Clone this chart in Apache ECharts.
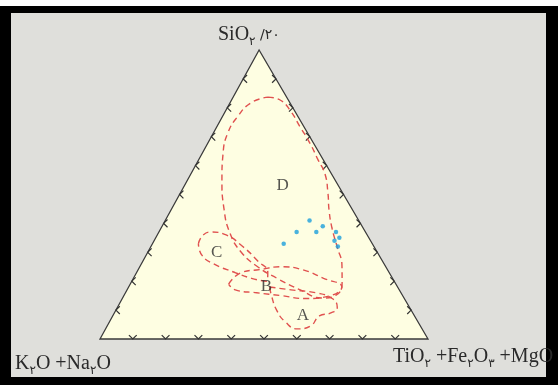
<!DOCTYPE html>
<html>
<head>
<meta charset="utf-8">
<script src="https://cdn.jsdelivr.net/npm/echarts@6/dist/echarts.min.js"></script>
<style>
  html, body { margin: 0; padding: 0; background: #fff; }
  #chart { width: 558px; height: 385px; }
</style>
</head>
<body>
<div id="chart"></div>
<script>
// Compositions are [SiO2/20, K2O+Na2O, TiO2+Fe2O3+MgO] in percent.

// Sandstone samples
const samples = [
  [41, 15, 44], [37, 21, 42], [39, 12, 49], [37, 15, 48], [33, 27, 40],
  [37, 9, 54], [35, 9, 56], [34, 11, 55], [32, 11, 57]
];

// Tectonic-setting field outlines
const fieldA = [
  [18, 39, 43], [17, 33, 50], [16, 26, 58], [14, 22, 64], [11, 22, 67], [9, 25, 66],
  [8, 29, 63], [4.5, 33.5, 62], [3.5, 38, 58.5], [6, 40.5, 53.5], [10, 41, 49], [15, 40, 45]
];
const fieldB = [
  [19, 51, 30], [23, 45, 32], [24, 39, 37], [25, 32, 43], [24, 26, 50], [21, 21, 58],
  [18, 17, 65], [15, 22, 63], [14, 30, 56], [15, 37, 48], [16, 44, 40], [17, 50, 33]
];
const fieldC = [
  [33, 53, 14], [36, 50, 14], [37, 47, 16], [36, 43, 21], [32, 40, 28], [27, 38, 35],
  [23, 37, 40], [20, 39, 41], [21, 43, 36], [23, 47, 30], [26, 52, 22], [29, 54, 17]
];
const fieldD = [
  [83.7, 5.7, 10.6], [82.7, 2.5, 14.8], [79.2, 1.3, 19.5], [73.4, 1.2, 25.4],
  [67.8, 1.1, 31.1], [61.9, 1.6, 36.5], [57.1, 2.0, 40.9], [50.5, 4.5, 45.0],
  [44.6, 7.2, 48.2], [38.4, 9.5, 52.1], [31.8, 11.3, 56.9], [25.3, 13.2, 61.5],
  [19.4, 16.2, 64.4], [15.2, 20.2, 64.6], [14.2, 25.0, 60.8], [17.0, 30.2, 52.8],
  [20.8, 35.0, 44.2], [24.9, 39.0, 36.1], [30.1, 41.5, 28.4], [36.7, 41.5, 21.8],
  [45.3, 38.9, 15.8], [55.0, 34.5, 10.5], [64.4, 29.3, 6.3], [71.3, 24.3, 4.4],
  [76.8, 18.6, 4.6], [81.7, 11.9, 6.4]
];

const fieldNames = ['A', 'B', 'C', 'D'];
const fieldLabelPos = [[8, 34, 58], [18, 40, 42], [30, 49, 21], [53, 17, 30]];

// Triangle corners and tick steps along each side
const corners = [[100, 0, 0], [0, 100, 0], [0, 0, 100]];
const tickSteps = [10, 20, 30, 40, 50, 60, 70, 80, 90];

// Horizontal position of the apex as a fraction of the base
const APEX_X = 0.485;

function toXY(p) {
  const s = p[0] + p[1] + p[2];
  return [(p[2] + p[0] * APEX_X) / s, p[0] / s];
}

function closedPath(field) {
  return field.concat([field[0]]).map(toXY);
}

const tickData = [];
[0, 1, 2].forEach(function (edge) {
  tickSteps.forEach(function (t) { tickData.push([edge, t]); });
});

const chart = echarts.init(document.getElementById('chart'));

const fieldStyle = { color: '#e0514f', width: 1.4, type: [6, 4] };
const serif = '"Liberation Serif", "Times New Roman", serif';
const ink = '#2a2a2a';

function labelRich() {
  return {
    m: { fontFamily: serif, fontSize: 20, fontWeight: 'normal', color: ink, lineHeight: 26, verticalAlign: 'middle' },
    s: { fontFamily: '"DejaVu Sans", sans-serif', fontSize: 12, fontWeight: 'normal', color: ink, lineHeight: 13, verticalAlign: 'bottom' },
    n: { fontFamily: '"DejaVu Sans", sans-serif', fontSize: 14, fontWeight: 'normal', color: ink, lineHeight: 26, verticalAlign: 'middle' }
  };
}

chart.setOption({
  backgroundColor: '#ffffff',
  animation: false,
  graphic: [
    { type: 'rect', z: -20, shape: { x: 0, y: 6, width: 558, height: 379 }, style: { fill: '#000' } },
    { type: 'rect', z: -19, shape: { x: 11, y: 13, width: 535, height: 364 }, style: { fill: '#dfdfdb' } }
  ],
  title: [
    { text: '{m|SiO}{s|۲}{n| /۲۰}', left: 213, top: 17, textStyle: { fontWeight: 'normal', rich: labelRich() } },
    { text: '{m|K}{s|۲}{m|O +Na}{s|۲}{m|O}', left: 10, top: 346, textStyle: { fontWeight: 'normal', rich: labelRich() } },
    { text: '{m|TiO}{s|۲}{m| +Fe}{s|۲}{m|O}{s|۳}{m| +MgO}', left: 388, top: 339, textStyle: { fontWeight: 'normal', rich: labelRich() } }
  ],
  grid: { left: 100, top: 50, right: 130, bottom: 46 },
  xAxis: { type: 'value', min: 0, max: 1, show: false },
  yAxis: { type: 'value', min: 0, max: 1, show: false },
  series: [
    {
      type: 'custom',
      z: 1,
      silent: true,
      clip: false,
      data: [[0, 0]],
      renderItem: function (params, api) {
        const pts = corners.map(function (c) { return api.coord(toXY(c)); });
        return {
          type: 'polygon',
          shape: { points: pts },
          style: { fill: '#fefee2', stroke: '#3a3a3a', lineWidth: 1.3 }
        };
      }
    },
    {
      type: 'custom',
      z: 2,
      silent: true,
      clip: false,
      data: tickData,
      renderItem: function (params, api) {
        const edge = api.value(0), t = api.value(1);
        let comp, dir;
        if (edge === 0) { comp = [0, 100 - t, t]; dir = [0, -1]; }
        else if (edge === 1) { comp = [t, 100 - t, 0]; dir = [1, 0]; }
        else { comp = [t, 0, 100 - t]; dir = [-1, 0]; }
        const p = api.coord(toXY(comp));
        const L = 5.5, c = Math.SQRT1_2;
        const a1 = [p[0] + L * c * (dir[0] - dir[1]), p[1] + L * c * (dir[0] + dir[1])];
        const a2 = [p[0] + L * c * (dir[0] + dir[1]), p[1] + L * c * (dir[1] - dir[0])];
        return {
          type: 'polyline',
          shape: { points: [a1, p, a2] },
          style: { stroke: '#333', lineWidth: 1.2, fill: null }
        };
      }
    },
    { type: 'line', z: 3, silent: true, smooth: 0.5, symbol: 'none', data: closedPath(fieldD), lineStyle: fieldStyle },
    { type: 'line', z: 3, silent: true, smooth: 0.5, symbol: 'none', data: closedPath(fieldC), lineStyle: fieldStyle },
    { type: 'line', z: 3, silent: true, smooth: 0.5, symbol: 'none', data: closedPath(fieldB), lineStyle: fieldStyle },
    { type: 'line', z: 3, silent: true, smooth: 0.5, symbol: 'none', data: closedPath(fieldA), lineStyle: fieldStyle },
    {
      type: 'scatter',
      z: 4,
      symbolSize: 0,
      silent: true,
      data: fieldLabelPos.map(function (p, i) { return { name: fieldNames[i], value: toXY(p) }; }),
      label: {
        show: true,
        position: 'inside',
        formatter: '{b}',
        fontFamily: serif,
        fontSize: 17,
        color: ink
      }
    },
    {
      type: 'scatter',
      z: 5,
      symbol: 'circle',
      symbolSize: 4.5,
      data: samples.map(toXY),
      itemStyle: { color: '#1c9fdc' }
    }
  ]
});
</script>
</body>
</html>
